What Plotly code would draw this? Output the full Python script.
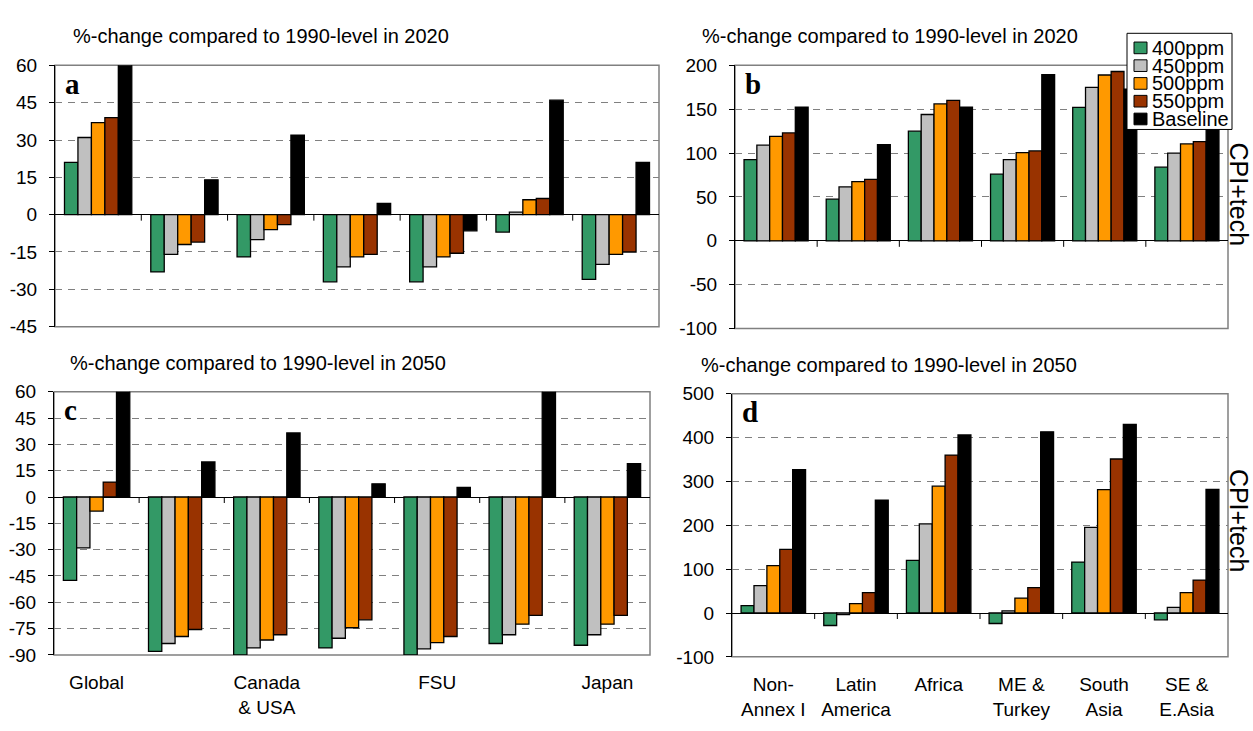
import plotly.graph_objects as go

# chart data
scenarios = ["400ppm", "450ppm", "500ppm", "550ppm", "Baseline"]
colors = ["#339966", "#C0C0C0", "#FF9900", "#993300", "#000000"]

annex_regions = ["Global", "Annex I", "Canada & USA", "Europe", "FSU", "Oceania", "Japan"]
annex_labels = ["Global", "", "Canada<br>& USA", "", "FSU", "", "Japan"]
nonannex_regions = ["Non-Annex I", "Latin America", "Africa", "ME & Turkey", "South Asia", "SE & E.Asia"]
nonannex_labels = ["Non-<br>Annex I", "Latin<br>America", "Africa", "ME &<br>Turkey", "South<br>Asia", "SE &<br>E.Asia"]

# panel a: annex regions, 2020
a_400 = [21, -23, -17, -27, -27, -7, -26]
a_450 = [31, -16, -10, -21, -21, 1, -20]
a_500 = [37, -12, -6, -17, -17, 6, -16]
a_550 = [39, -11, -4, -16, -15.5, 6.5, -15]
a_base = [61, 14, 32, 4.5, -6.5, 46, 21]

# panel b: non-annex regions, 2020
b_400 = [92.5, 47.5, 125, 76, 152, 84]
b_450 = [109, 61.5, 144, 92.5, 175, 100]
b_500 = [119, 67.5, 156, 100.5, 189, 110.5]
b_550 = [123, 70, 160, 102.5, 193, 113]
b_base = [152.5, 109.5, 152.5, 189.5, 173, 140]

# panel c: annex regions, 2050
c_400 = [-47.5, -88, -90, -86, -90, -83.5, -84.5]
c_450 = [-29, -83.5, -86, -80.5, -86.5, -78.5, -78.5]
c_500 = [-8, -79.5, -81.5, -74.5, -83, -72.5, -72.5]
c_550 = [8.5, -75.5, -78.5, -70, -79.5, -67.5, -67.5]
c_base = [62, 20, 36.5, 7.5, 5.5, 62, 19]

# panel d: non-annex regions, 2050
d_400 = [17, -28.5, 120, -24, 116, -15.5]
d_450 = [62.5, -3.5, 203, 5, 195, 13]
d_500 = [108, 21.5, 289, 34, 281, 46.5]
d_550 = [145, 46.5, 360, 58, 351, 75]
d_base = [327, 257, 406, 413, 430, 282]

ticks_a = list(range(-45, 61, 15))
ticks_b = list(range(-100, 201, 50))
ticks_c = list(range(-90, 61, 15))
ticks_d = list(range(-100, 501, 100))

title_2020 = "%-change compared to 1990-level in 2020"
title_2050 = "%-change compared to 1990-level in 2050"

W, H = 1253, 731
FONT = "Liberation Sans, Arial, sans-serif"


def fx(x):
    return x / W


def fy(y):
    return 1 - y / H


# panel settings: key, data, categories, labels, y ticks, pixel box, title pos
panels = [
    ("a", [a_400, a_450, a_500, a_550, a_base], annex_regions, None, ticks_a,
     (55, 659, 57, 326), title_2020, (71, 27)),
    ("b", [b_400, b_450, b_500, b_550, b_base], nonannex_regions, None, ticks_b,
     (735, 1228, 57, 328), title_2020, (700, 27)),
    ("c", [c_400, c_450, c_500, c_550, c_base], annex_regions, annex_labels, ticks_c,
     (54, 650, 393, 664), title_2050, (68, 363)),
    ("d", [d_400, d_450, d_500, d_550, d_base], nonannex_regions, nonannex_labels, ticks_d,
     (732, 1228, 395, 666), title_2050, (699, 365)),
]

fig = go.Figure()
layout = dict()
shapes = []
annotations = []

for i, (letter, series, cats, labels, yticks, box, title, tpos) in enumerate(panels):
    n = "" if i == 0 else str(i + 1)
    x0, x1, y0, y1 = box
    for name, vals, col in zip(scenarios, series, colors):
        fig.add_trace(go.Bar(
            x=cats, y=vals, name=name,
            marker=dict(color=col, line=dict(color="black", width=1.3)),
            xaxis="x" + n, yaxis="y" + n, showlegend=False))

    xa = dict(domain=[fx(x0), fx(x1)], anchor="y" + n, type="category",
              categoryorder="array", categoryarray=cats,
              range=[-0.5, len(cats) - 0.5],
              showgrid=False, zeroline=False, showline=False, ticks="",
              fixedrange=True)
    if labels is None:
        xa["showticklabels"] = False
    else:
        xa.update(tickvals=cats, ticktext=labels, ticklabelstandoff=14,
                  tickfont=dict(family=FONT, size=19, color="black"))
    ya = dict(domain=[fy(y1), fy(y0)], anchor="x" + n,
              range=[yticks[0], yticks[-1]],
              tickvals=yticks, ticktext=[str(v) for v in yticks],
              tickfont=dict(family=FONT, size=19, color="black"),
              ticks="outside", ticklen=5, tickcolor="black",
              ticklabelstandoff=8,
              showline=True, linecolor="black", linewidth=1,
              showgrid=True, gridcolor="#808080", gridwidth=1, griddash="7px,6px",
              zeroline=True, zerolinecolor="black", zerolinewidth=1,
              fixedrange=True)
    layout["xaxis" + n] = xa
    layout["yaxis" + n] = ya

    # plot-area border
    shapes.append(dict(type="rect", xref="x" + n + " domain", yref="y" + n + " domain",
                       x0=0, x1=1, y0=0, y1=1, layer="below",
                       line=dict(color="#808080", width=1.5)))
    # category separator ticks on the zero line
    for k in range(1, len(cats)):
        shapes.append(dict(type="line", xref="x" + n, yref="y" + n,
                           ysizemode="pixel", yanchor=0, y0=0, y1=-6,
                           x0=k - 0.5, x1=k - 0.5,
                           line=dict(color="black", width=1)))

    annotations.append(dict(text=title, xref="paper", yref="paper",
                            x=fx(tpos[0]), y=fy(tpos[1]), xanchor="left", yanchor="middle",
                            showarrow=False, font=dict(family=FONT, size=20, color="black")))
    annotations.append(dict(text="<b>" + letter + "</b>", xref="paper", yref="paper",
                            x=fx(x0 + 8), y=fy(y0 + 19), xanchor="left", yanchor="middle",
                            showarrow=False,
                            font=dict(family="Liberation Serif, Times New Roman, serif",
                                      size=29, color="black")))

# side labels
for yc in (190, 526):
    annotations.append(dict(text="CPI+tech", xref="paper", yref="paper",
                            x=fx(1239), y=fy(yc), textangle=90,
                            xanchor="center", yanchor="middle", showarrow=False,
                            font=dict(family=FONT, size=25, color="black")))

# legend box drawn by hand (Excel style, tight rows)
shapes.append(dict(type="rect", xref="paper", yref="paper",
                   x0=fx(1127), x1=fx(1232), y0=fy(123), y1=fy(24),
                   fillcolor="white", line=dict(color="black", width=1), layer="above"))
for k, (name, col) in enumerate(zip(scenarios, colors)):
    yc = 39 + k * 18.3
    shapes.append(dict(type="rect", xref="paper", yref="paper",
                       x0=fx(1134), x1=fx(1147), y0=fy(yc + 6), y1=fy(yc - 6),
                       fillcolor=col, line=dict(color="black", width=1), layer="above"))
    annotations.append(dict(text=name, xref="paper", yref="paper",
                            x=fx(1150), y=fy(yc), xanchor="left", yanchor="middle",
                            showarrow=False, font=dict(family=FONT, size=20, color="black")))

fig.update_layout(
    width=W, height=H,
    margin=dict(l=0, r=0, t=0, b=0),
    paper_bgcolor="white", plot_bgcolor="white",
    barmode="group", bargap=0.22, bargroupgap=0,
    shapes=shapes, annotations=annotations,
    **layout)

# the page's default 8px body margin would push the figure off the window
fig.write_html("out.html", config={"displayModeBar": False},
               post_script="document.body.style.margin = '0';")
